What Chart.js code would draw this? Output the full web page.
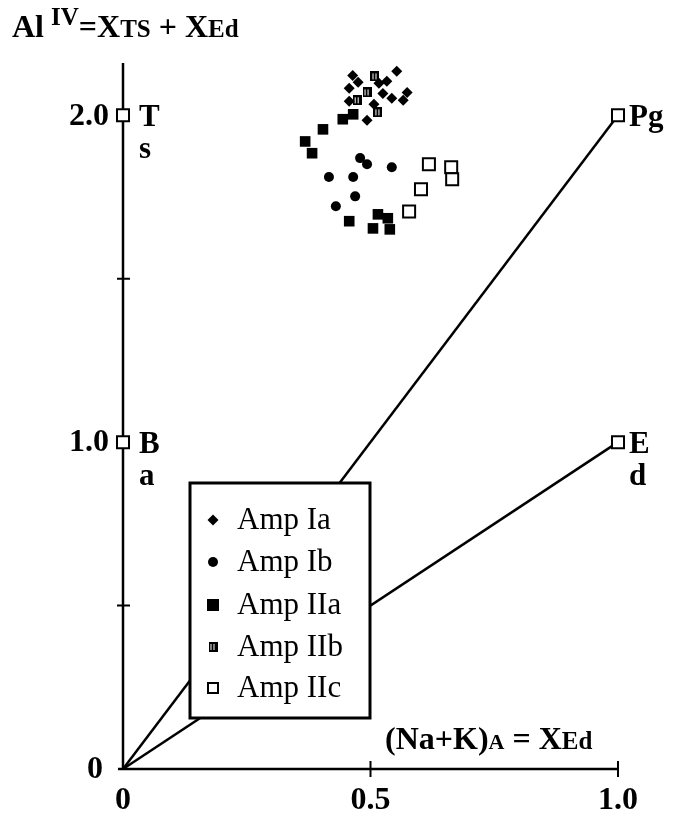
<!DOCTYPE html>
<html>
<head>
<meta charset="utf-8">
<script src="https://cdn.jsdelivr.net/npm/chart.js@4/dist/chart.umd.min.js"></script>
<style>
  html, body { margin: 0; padding: 0; background: #fff; }
</style>
</head>
<body>
<canvas id="chart" width="673" height="816"></canvas>
<script>
// values: [XEd, AlIV]
var ampIa = [[0.464, 2.122], [0.553, 2.135], [0.475, 2.101], [0.457, 2.083], [0.517, 2.098],
             [0.574, 2.070], [0.566, 2.046], [0.543, 2.052], [0.457, 2.043], [0.493, 1.985],
             [0.507, 2.034], [0.525, 2.067], [0.533, 2.104]];
var ampIb = [[0.479, 1.869], [0.493, 1.850], [0.543, 1.841], [0.416, 1.811], [0.465, 1.811],
             [0.469, 1.752], [0.430, 1.722]];
var ampIIa = [[0.444, 1.988], [0.465, 2.003], [0.404, 1.957], [0.368, 1.920], [0.382, 1.884],
              [0.515, 1.697], [0.457, 1.676], [0.505, 1.654], [0.535, 1.685], [0.539, 1.651]];
var ampIIb = [[0.509, 2.119], [0.493, 2.070], [0.515, 2.009], [0.473, 2.046]];
var ampIIc = [[0.618, 1.850], [0.663, 1.841], [0.665, 1.804], [0.602, 1.774], [0.578, 1.706]];

var seriesNames = ["Amp Ia", "Amp Ib", "Amp IIa", "Amp IIb", "Amp IIc"];

// end members and the joins from the origin
var endNames = ["Ts", "Ba", "Pg", "Ed"];
var endX = [0, 0, 1, 1];
var endY = [2, 1, 2, 1];
var joinTo = ["Pg", "Ed"];

var xTicks = [0, 0.5, 1.0];
var xTickLabels = ["0", "0.5", "1.0"];
var yTicks = [0, 0.5, 1.0, 1.5, 2.0];
var yTickLabels = ["0", "", "1.0", "", "2.0"];

var SERIF = '"Liberation Serif", "Times New Roman", serif';

function pts(arr) {
    return arr.map(function (p) { return { x: p[0], y: p[1] }; });
}

// the "IIb" symbol: black box with two white slits
function makeIIb(w, h) {
    var c = document.createElement("canvas");
    c.width = w; c.height = h;
    var g = c.getContext("2d");
    g.fillStyle = "#000";
    g.fillRect(0, 0, w, h);
    g.fillStyle = "#fff";
    g.fillRect(Math.round(w * 0.25), 2, 1, h - 4);
    g.fillRect(Math.round(w * 0.6), 2, 1, h - 4);
    return c;
}
var iibIcon = makeIIb(9, 10);

function runs(ctx, list, x, y) {
    // list of [text, size, dy]
    ctx.textAlign = "left";
    ctx.textBaseline = "alphabetic";
    list.forEach(function (r) {
        ctx.font = "bold " + r[1] + "px " + SERIF;
        ctx.fillText(r[0], x, y + (r[2] || 0));
        x += ctx.measureText(r[0]).width;
    });
}

var frame = {
    id: "frame",
    beforeDatasetsDraw: function (chart) {
        var ctx = chart.ctx, xs = chart.scales.x, ys = chart.scales.y;
        var x0 = xs.getPixelForValue(0), y0 = ys.getPixelForValue(0);
        ctx.save();
        ctx.strokeStyle = "#000";
        ctx.lineWidth = 2.5;
        ctx.beginPath();
        ctx.moveTo(x0, y0);
        ctx.lineTo(x0, ys.getPixelForValue(ys.max));
        ctx.moveTo(x0 - 5, y0);
        ctx.lineTo(xs.getPixelForValue(1.0), y0);
        ctx.stroke();

        ctx.lineWidth = 2;
        ctx.beginPath();
        yTicks.forEach(function (v) {
            if (v === 0) return;
            var py = ys.getPixelForValue(v);
            ctx.moveTo(x0 - 6, py); ctx.lineTo(x0 + 7, py);
        });
        xTicks.forEach(function (v) {
            if (v === 0) return;
            var px = xs.getPixelForValue(v);
            ctx.moveTo(px, y0 - 8); ctx.lineTo(px, y0 + 8);
        });
        ctx.stroke();

        ctx.fillStyle = "#000";
        ctx.font = "bold 32px " + SERIF;
        ctx.textBaseline = "middle";
        ctx.textAlign = "right";
        yTicks.forEach(function (v, i) {
            if (!yTickLabels[i]) return;
            ctx.fillText(yTickLabels[i], x0 - (v === 0 ? 20 : 14), ys.getPixelForValue(v) + 1);
        });
        ctx.textAlign = "center";
        xTicks.forEach(function (v, i) {
            ctx.fillText(xTickLabels[i], xs.getPixelForValue(v), y0 + 32);
        });

        // axis titles
        runs(ctx, [["Al", 32], [" ", 28], ["IV", 25, -12], ["=X", 32], ["TS", 25], [" + X", 32], ["Ed", 25]], 12, 37);
        runs(ctx, [["(Na+K)", 32], ["A", 22], [" = X", 32], ["Ed", 25]], 385, 749);

        // end member labels
        ctx.font = "bold 31px " + SERIF;
        ctx.textAlign = "left";
        ctx.textBaseline = "alphabetic";
        var lab = { Ts: ["T", "s"], Ba: ["B", "a"], Pg: ["Pg", ""], Ed: ["E", "d"] };
        endNames.forEach(function (n, i) {
            var px = xs.getPixelForValue(endX[i]), py = ys.getPixelForValue(endY[i]);
            var dx = endX[i] === 0 ? 16 : 11;
            ctx.fillText(lab[n][0], px + dx, py + 11);
            if (lab[n][1]) ctx.fillText(lab[n][1], px + dx, py + 43);
        });
        ctx.restore();
    },
    afterDatasetsDraw: function (chart) {
        var ctx = chart.ctx;
        var bx = 190, by = 483, bw = 180, bh = 235;
        ctx.save();
        ctx.fillStyle = "#fff";
        ctx.fillRect(bx, by, bw, bh);
        ctx.strokeStyle = "#000";
        ctx.lineWidth = 3;
        ctx.strokeRect(bx, by, bw, bh);
        var rowY = [520, 562, 605, 647, 688];
        var mx = 213;
        rowY.forEach(function (y, i) {
            ctx.fillStyle = "#000";
            ctx.beginPath();
            if (i === 0) {
                ctx.moveTo(mx, y - 5.5); ctx.lineTo(mx + 5.5, y); ctx.lineTo(mx, y + 5.5); ctx.lineTo(mx - 5.5, y);
                ctx.closePath(); ctx.fill();
            } else if (i === 1) {
                ctx.arc(mx, y, 5, 0, Math.PI * 2); ctx.fill();
            } else if (i === 2) {
                ctx.fillRect(mx - 6, y - 6, 12, 12);
            } else if (i === 3) {
                ctx.drawImage(iibIcon, mx - 4.5, y - 5);
            } else {
                ctx.fillStyle = "#fff";
                ctx.fillRect(mx - 5, y - 5, 10, 10);
                ctx.lineWidth = 2;
                ctx.strokeRect(mx - 5, y - 5, 10, 10);
            }
            ctx.fillStyle = "#000";
            ctx.font = "31px " + SERIF;
            ctx.textAlign = "left";
            ctx.textBaseline = "middle";
            ctx.fillText(seriesNames[i], 237, y + 1);
        });
        ctx.restore();
    }
};

var endPts = endNames.map(function (n, i) { return { x: endX[i], y: endY[i] }; });
var joinSets = joinTo.map(function (n) {
    var i = endNames.indexOf(n);
    return {
        type: "line",
        data: [{ x: 0, y: 0 }, { x: endX[i], y: endY[i] }],
        borderColor: "#000",
        borderWidth: 2.5,
        pointRadius: 0,
        order: 10
    };
});

new Chart(document.getElementById("chart"), {
    type: "scatter",
    data: {
        datasets: joinSets.concat([
            { label: "End members", data: endPts, pointStyle: "rect", pointRadius: 8.5,
              backgroundColor: "#fff", borderColor: "#000", borderWidth: 2, order: 0 },
            { label: seriesNames[0], data: pts(ampIa), pointStyle: "rectRot", pointRadius: 5.5,
              backgroundColor: "#000", borderColor: "#000", borderWidth: 0, order: 1 },
            { label: seriesNames[1], data: pts(ampIb), pointStyle: "circle", pointRadius: 5,
              backgroundColor: "#000", borderColor: "#000", borderWidth: 0, order: 1 },
            { label: seriesNames[2], data: pts(ampIIa), pointStyle: "rect", pointRadius: 7.5,
              backgroundColor: "#000", borderColor: "#000", borderWidth: 0, order: 1 },
            { label: seriesNames[3], data: pts(ampIIb), pointStyle: iibIcon, pointRadius: 5,
              backgroundColor: "#000", borderColor: "#000", order: 1 },
            { label: seriesNames[4], data: pts(ampIIc), pointStyle: "rect", pointRadius: 8.5,
              backgroundColor: "#fff", borderColor: "#000", borderWidth: 2, order: 1 }
        ]).map(function (d) { d.clip = false; return d; })
    },
    options: {
        responsive: false,
        animation: false,
        layout: { padding: { left: 123, right: 55, top: 63, bottom: 47 } },
        plugins: { legend: { display: false }, tooltip: { enabled: false } },
        scales: {
            x: { type: "linear", min: 0, max: 1.0, display: false },
            y: { type: "linear", min: 0, max: 2.16, display: false }
        }
    },
    plugins: [frame]
});
</script>
</body>
</html>
